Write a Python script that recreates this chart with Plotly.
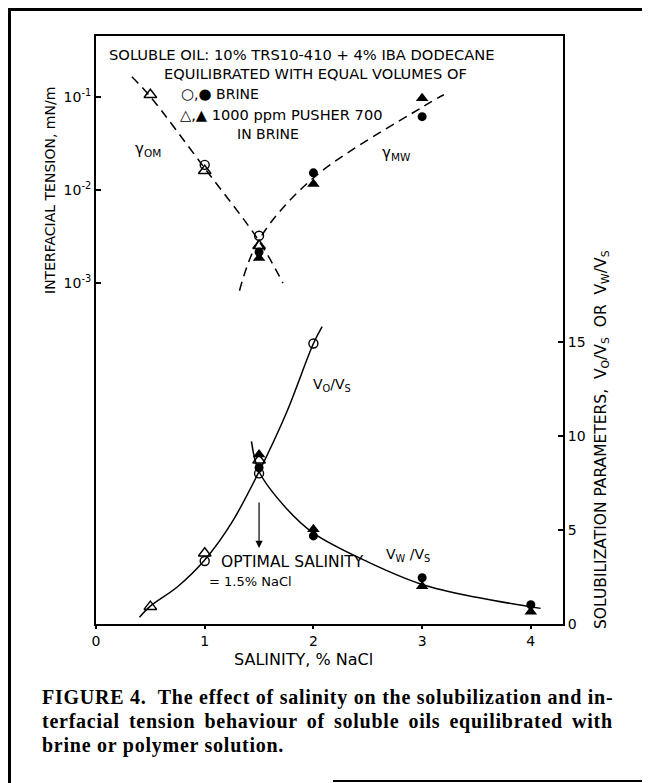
import plotly.graph_objects as go

# ---------------- data ----------------
# Interfacial tension (left, log axis), mN/m
ift_open_circle_x = [1.0, 1.5]
ift_open_circle_y = [0.0185, 0.0032]
ift_open_tri_x = [0.5, 1.0, 1.5]
ift_open_tri_y = [0.105, 0.016, 0.0025]
ift_fill_circle_x = [1.5, 2.0, 3.0]
ift_fill_circle_y = [0.00214, 0.0152, 0.061]
ift_fill_tri_x = [1.5, 2.0, 3.0]
ift_fill_tri_y = [0.00184, 0.0115, 0.096]

# dashed fitted curves (nodes)
gom_curve_x = [0.33, 0.5, 1.0, 1.5, 1.72]
gom_curve_y = [0.164, 0.1, 0.017, 0.0028, 0.00099]
gmw_curve_x = [1.32, 1.5, 2.0, 3.0, 3.2]
gmw_curve_y = [0.00082, 0.0029, 0.0134, 0.077, 0.105]

# Solubilization parameters (right, linear axis)
sol_open_tri_x = [0.5, 1.0, 1.5]
sol_open_tri_y = [0.92, 3.76, 8.7]
sol_open_circle_x = [1.0, 1.5, 2.0]
sol_open_circle_y = [3.35, 8.0, 14.9]
sol_fill_tri_x = [1.5, 2.0, 3.0, 4.0]
sol_fill_tri_y = [9.0, 5.03, 2.0, 0.65]
sol_fill_circle_x = [1.5, 2.0, 3.0, 4.0]
sol_fill_circle_y = [8.3, 4.68, 2.46, 1.02]

vo_curve_x = [0.40, 0.5, 0.75, 1.0, 1.25, 1.5, 1.75, 2.0, 2.08]
vo_curve_y = [0.36, 0.95, 1.98, 3.4, 5.4, 8.1, 11.2, 14.9, 15.8]
vw_curve_x = [1.43, 1.5, 1.75, 2.0, 2.5, 3.0, 3.5, 4.09]
vw_curve_y = [9.7, 8.1, 6.15, 4.83, 3.3, 2.1, 1.42, 0.83]

x_ticks = [0, 1, 2, 3, 4]
left_tickvals = [0.1, 0.01, 0.001]
left_ticktext = ["10<sup>-1</sup>", "10<sup>-2</sup>", "10<sup>-3</sup>"]
right_ticks = [0, 5, 10, 15]

# ---------------- layout helpers ----------------
# page has an 8px body margin, so the figure is 8px smaller and offset
OFF = 8
W, H = 650 - OFF, 783 - OFF
L, R, T, B = 96, 563, 36, 624   # plot area in reference (window) pixels


def px(x):
    return (x - L) / (R - L)


def py(y):
    return (B - y) / (B - T)


FONT = "DejaVu Sans"
BLACK = "black"

fig = go.Figure()

dash_line = dict(color=BLACK, width=1.5, dash="9px,6px", shape="spline")
solid_line = dict(color=BLACK, width=1.5, shape="spline")
fig.add_trace(go.Scatter(x=gom_curve_x, y=gom_curve_y, mode="lines", yaxis="y",
                         line=dash_line, showlegend=False, hoverinfo="skip"))
fig.add_trace(go.Scatter(x=gmw_curve_x, y=gmw_curve_y, mode="lines", yaxis="y",
                         line=dash_line, showlegend=False, hoverinfo="skip"))
fig.add_trace(go.Scatter(x=vo_curve_x, y=vo_curve_y, mode="lines", yaxis="y2",
                         line=solid_line, showlegend=False, hoverinfo="skip"))
fig.add_trace(go.Scatter(x=vw_curve_x, y=vw_curve_y, mode="lines", yaxis="y2",
                         line=solid_line, showlegend=False, hoverinfo="skip"))

open_tri = dict(symbol="triangle-up-open", size=11, color=BLACK, line=dict(width=1.4, color=BLACK))
open_circ = dict(symbol="circle-open", size=9, color=BLACK, line=dict(width=1.4, color=BLACK))
fill_tri = dict(symbol="triangle-up", size=11, color=BLACK, line=dict(width=0))
fill_circ = dict(symbol="circle", size=9, color=BLACK, line=dict(width=0))

for xs, ys, mk, ax in [
    (ift_open_tri_x, ift_open_tri_y, open_tri, "y"),
    (ift_open_circle_x, ift_open_circle_y, open_circ, "y"),
    (ift_fill_circle_x, ift_fill_circle_y, fill_circ, "y"),
    (ift_fill_tri_x, ift_fill_tri_y, fill_tri, "y"),
    (sol_open_tri_x, sol_open_tri_y, open_tri, "y2"),
    (sol_open_circle_x, sol_open_circle_y, open_circ, "y2"),
    (sol_fill_circle_x, sol_fill_circle_y, fill_circ, "y2"),
    (sol_fill_tri_x, sol_fill_tri_y, fill_tri, "y2"),
]:
    fig.add_trace(go.Scatter(x=xs, y=ys, mode="markers", yaxis=ax, marker=mk,
                             showlegend=False, cliponaxis=False))


def txt(x, y, s, size=13, xanchor="left", angle=0, family=FONT, color=BLACK):
    return dict(x=px(x), y=py(y), xref="paper", yref="paper", text=s, showarrow=False,
                xanchor=xanchor, yanchor="middle", textangle=angle,
                font=dict(family=family, size=size, color=color))


ann = [
    txt(107, 54, "SOLUBLE OIL: 10% TRS10-410 + 4% IBA DODECANE", size=14.7),
    txt(162, 74, "EQUILIBRATED WITH EQUAL VOLUMES OF", size=14.6),
    txt(179, 94, "<span style='font-size:15px'>○</span>,<span style='font-size:15px'>●</span> BRINE", size=14),
    txt(178, 114, "△,▲ 1000 ppm PUSHER 700", size=14.6),
    txt(235, 134, "IN BRINE", size=14),
    txt(133, 149, "γ<sub>OM</sub>", size=15),
    txt(380, 153, "γ<sub>MW</sub>", size=15),
    txt(311, 385, "V<sub>O</sub>/V<sub>S</sub>", size=14),
    txt(384, 555, "V<sub>W</sub> /V<sub>S</sub>", size=14),
    txt(219, 562, "OPTIMAL SALINITY", size=15.5),
    txt(207, 581, "= 1.5% NaCl", size=13),
    txt(303, 659, "SALINITY, % NaCl", size=16, xanchor="center"),
    txt(50, 191, "INTERFACIAL TENSION, mN/m", size=14, xanchor="center", angle=-90),
    txt(602, 440, "SOLUBILIZATION PARAMETERS,  V<sub>O</sub>/V<sub>S</sub>  OR  V<sub>W</sub>/V<sub>S</sub>",
        size=15.5, xanchor="center", angle=-90),
]

cap_font = "Liberation Serif"
cap_lines = [
    ("FIGURE 4.  The effect of salinity on the solubilization and in-", 0),
    ("terfacial tension behaviour of soluble oils equilibrated with", 3.4),
    ("brine or polymer solution.", 0),
]
for (s, ws), yy in zip(cap_lines, [697, 721, 745]):
    styled = "<b><span style='letter-spacing:0.75px; word-spacing:%.1fpx'>%s</span></b>" % (ws, s)
    ann.append(txt(40, yy, styled, size=20, family=cap_font))

# optimal salinity arrow
ann.append(dict(x=1.5, y=py(548), xref="x", yref="paper", ax=0, ay=-47, axref="pixel", ayref="pixel",
                text="", showarrow=True, arrowhead=2, arrowsize=1.2, arrowwidth=1.2, arrowcolor=BLACK))

shapes = [
    dict(type="line", xref="paper", yref="paper", x0=px(9.5), x1=px(9.5), y0=py(8), y1=py(783),
         line=dict(color=BLACK, width=3)),
    dict(type="line", xref="paper", yref="paper", x0=px(8), x1=px(650), y0=py(9.5), y1=py(9.5),
         line=dict(color=BLACK, width=3)),
    dict(type="line", xref="paper", yref="paper", x0=px(333), x1=px(650), y0=py(781), y1=py(781),
         line=dict(color=BLACK, width=2)),
]

fig.update_layout(
    width=W, height=H, autosize=False,
    margin=dict(l=L - OFF, r=650 - R, t=T - OFF, b=783 - B, pad=0),
    paper_bgcolor="white", plot_bgcolor="white",
    showlegend=False,
    font=dict(family=FONT, size=13, color=BLACK),
    xaxis=dict(range=[0, 4.296], tickvals=x_ticks, ticktext=[str(v) for v in x_ticks],
               showline=True, linecolor=BLACK, linewidth=2, mirror=True,
               ticks="outside", ticklen=3, tickwidth=1.5, tickcolor=BLACK,
               showgrid=False, zeroline=False, tickfont=dict(size=14, family=FONT)),
    yaxis=dict(type="log", range=[-6.67, -0.347], tickvals=left_tickvals, ticktext=left_ticktext,
               showline=True, linecolor=BLACK, linewidth=2,
               ticks="inside", ticklen=5, tickwidth=1.5, tickcolor=BLACK,
               showgrid=False, zeroline=False, tickfont=dict(size=14, family=FONT)),
    yaxis2=dict(range=[0, 31.24], overlaying="y", side="right", tickvals=right_ticks,
                ticktext=[str(v) for v in right_ticks],
                showline=True, linecolor=BLACK, linewidth=2,
                ticks="inside", ticklen=5, tickwidth=1.5, tickcolor=BLACK,
                showgrid=False, zeroline=False, tickfont=dict(size=14, family=FONT)),
    annotations=ann,
    shapes=shapes,
)

fig.write_html("out.html")
